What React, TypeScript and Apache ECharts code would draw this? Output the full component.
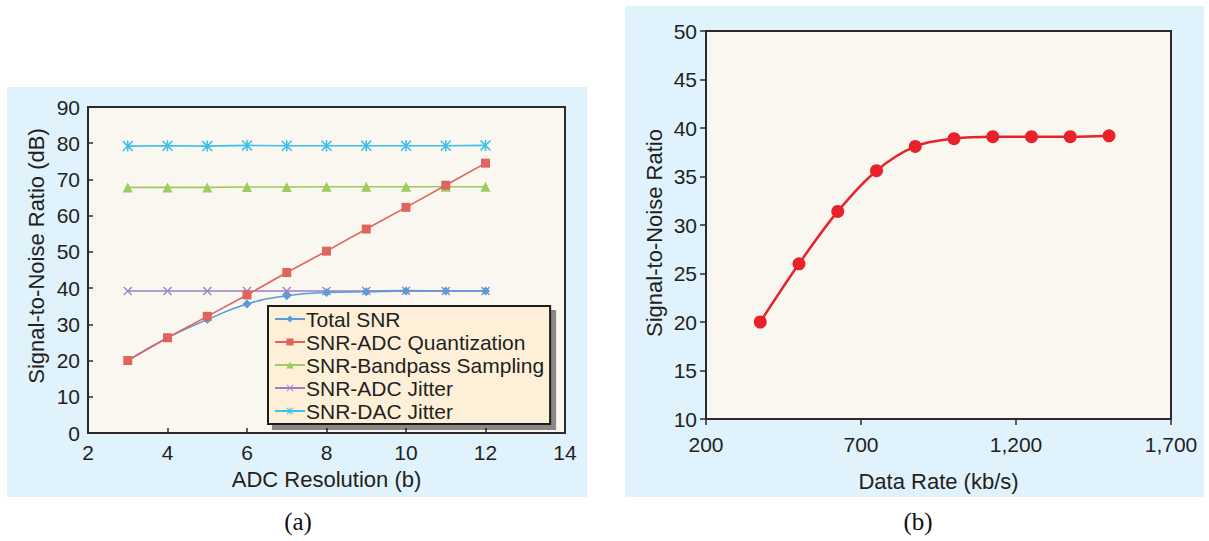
import React, { useEffect, useRef } from 'react';
import * as echarts from 'echarts';

// Panel (a): ADC resolution sweep
const adcBits = [3, 4, 5, 6, 7, 8, 9, 10, 11, 12];
const totalSNR = [20, 26.3, 31.3, 35.6, 37.9, 38.8, 39.0, 39.2, 39.2, 39.2];
const adcQuantization = [20, 26.3, 32.2, 38.1, 44.3, 50.2, 56.3, 62.3, 68.4, 74.5];
const bandpassSampling = [67.8, 67.8, 67.8, 67.9, 67.9, 68.0, 68.0, 68.0, 68.0, 68.0];
const adcJitter = [39.2, 39.2, 39.2, 39.2, 39.2, 39.2, 39.2, 39.3, 39.2, 39.2];
const dacJitter = [79.2, 79.3, 79.2, 79.4, 79.3, 79.3, 79.3, 79.3, 79.3, 79.4];

// Panel (b): data-rate sweep
const dataRate = [375, 500, 625, 750, 875, 1000, 1125, 1250, 1375, 1500];
const snrVsRate = [20, 26, 31.4, 35.6, 38.1, 38.9, 39.1, 39.1, 39.1, 39.2];

const legendNames = [
  'Total SNR',
  'SNR-ADC Quantization',
  'SNR-Bandpass Sampling',
  'SNR-ADC Jitter',
  'SNR-DAC Jitter',
];
const captions = ['(a)', '(b)'];

const pair = (xs: number[], ys: number[]) => xs.map((x, i) => [x, ys[i]]);

const TEXT = '#231f20';
const FONT = 'Liberation Sans, Arial, sans-serif';
const xMark = 'path://M0,1L1,0L10,9L9,10Z M1,10L0,9L9,0L10,1Z';
const starMark = 'path://M4.3,0L5.7,0L5.7,10L4.3,10Z M0,1L1,0L10,9L9,10Z M1,10L0,9L9,0L10,1Z';

export default function App() {
  const ref = useRef<HTMLDivElement>(null);
  useEffect(() => {
    const chart = echarts.init(ref.current!, null, { renderer: 'svg', width: 1209, height: 541 });

    const axisLine = { show: true, lineStyle: { color: '#2b2b2b', width: 2 } };
    const tickLabel = { fontSize: 21, color: TEXT, fontFamily: FONT };

    const lineSeries = (name: string, ys: number[], color: string, symbol: string, size: number, smooth = false) => ({
      name,
      type: 'line',
      xAxisIndex: 0,
      yAxisIndex: 0,
      data: pair(adcBits, ys),
      smooth,
      symbol,
      symbolSize: size,
      showSymbol: true,
      lineStyle: { color, width: 1.6 },
      itemStyle: { color },
      z: 3,
    });

    const option: any = {
      animation: false,
      backgroundColor: '#ffffff',
      graphic: [
        { type: 'rect', z: -10, shape: { x: 7, y: 87, width: 580, height: 410 }, style: { fill: '#E0F2FC' } },
        { type: 'rect', z: -10, shape: { x: 625, y: 6, width: 579, height: 491 }, style: { fill: '#E0F2FC' } },
        {
          type: 'text', x: 36, y: 256, rotation: Math.PI / 2,
          style: { text: 'Signal-to-Noise Ratio (dB)', fontSize: 22, fontFamily: FONT, fill: TEXT, textAlign: 'center', textVerticalAlign: 'middle' },
        },
        {
          type: 'text', x: 654, y: 233, rotation: Math.PI / 2,
          style: { text: 'Signal-to-Noise Ratio', fontSize: 22, fontFamily: FONT, fill: TEXT, textAlign: 'center', textVerticalAlign: 'middle' },
        },
        {
          type: 'text', x: 298, y: 521,
          style: { text: captions[0], fontSize: 25, fontFamily: 'Liberation Serif, serif', fill: '#111', textAlign: 'center', textVerticalAlign: 'middle' },
        },
        {
          type: 'text', x: 918, y: 521,
          style: { text: captions[1], fontSize: 25, fontFamily: 'Liberation Serif, serif', fill: '#111', textAlign: 'center', textVerticalAlign: 'middle' },
        },
      ],
      grid: [
        { left: 88, top: 107, width: 477, height: 326, show: true, backgroundColor: '#FAF7F0', borderColor: '#2b2b2b', borderWidth: 2 },
        { left: 706, top: 31, width: 465, height: 388, show: true, backgroundColor: '#FAF7F0', borderColor: '#2b2b2b', borderWidth: 2 },
      ],
      legend: {
        data: legendNames,
        orient: 'vertical',
        left: 268,
        top: 306,
        backgroundColor: '#FEF0D8',
        borderColor: '#1a1a1a',
        borderWidth: 2,
        borderRadius: 0,
        padding: [2, 6, 2, 6],
        shadowColor: 'rgba(0,0,0,0.45)',
        shadowOffsetX: 5,
        shadowOffsetY: 5,
        shadowBlur: 0,
        itemWidth: 30,
        itemHeight: 9,
        itemGap: 1,
        textStyle: { fontSize: 21, lineHeight: 22, color: TEXT, fontFamily: FONT, padding: [0, 0, 0, -4] },
      },
      xAxis: [
        {
          gridIndex: 0, type: 'value', min: 2, max: 14, interval: 2,
          axisLine, axisTick: { show: true, inside: true, length: 5, lineStyle: { color: '#2b2b2b', width: 1.5 } },
          splitLine: { show: false },
          axisLabel: { ...tickLabel, margin: 9 },
          name: 'ADC Resolution (b)', nameLocation: 'middle', nameGap: 35,
          nameTextStyle: { fontSize: 22, color: TEXT, fontFamily: FONT },
        },
        {
          gridIndex: 1, type: 'value', min: 200, max: 1700, interval: 500,
          axisLine, axisTick: { show: true, inside: false, length: 6, lineStyle: { color: '#2b2b2b', width: 1.5 } },
          splitLine: { show: false },
          axisLabel: { ...tickLabel, margin: 15, formatter: (v: number) => v.toLocaleString('en-US') },
          name: 'Data Rate (kb/s)', nameLocation: 'middle', nameGap: 51,
          nameTextStyle: { fontSize: 22, color: TEXT, fontFamily: FONT },
        },
      ],
      yAxis: [
        {
          gridIndex: 0, type: 'value', min: 0, max: 90, interval: 10,
          axisLine, axisTick: { show: true, inside: true, length: 5, lineStyle: { color: '#2b2b2b', width: 1.5 } },
          splitLine: { show: false },
          axisLabel: { ...tickLabel, margin: 8 },
        },
        {
          gridIndex: 1, type: 'value', min: 10, max: 50, interval: 5,
          axisLine, axisTick: { show: true, inside: false, length: 6, lineStyle: { color: '#2b2b2b', width: 1.5 } },
          splitLine: { show: false },
          axisLabel: { ...tickLabel, margin: 9 },
        },
      ],
      series: [
        lineSeries(legendNames[3], adcJitter, '#9B80C6', xMark, 9),
        lineSeries(legendNames[4], dacJitter, '#3DBFE9', starMark, 11),
        lineSeries(legendNames[2], bandpassSampling, '#9CCB5E', 'triangle', 10),
        lineSeries(legendNames[0], totalSNR, '#5C9BD8', 'diamond', 9, true),
        lineSeries(legendNames[1], adcQuantization, '#E0645E', 'rect', 9),
        {
          name: 'SNR', type: 'line', xAxisIndex: 1, yAxisIndex: 1,
          data: pair(dataRate, snrVsRate), smooth: 0.35,
          symbol: 'circle', symbolSize: 13,
          lineStyle: { color: '#E8222B', width: 2.5 },
          itemStyle: { color: '#E8222B' },
          z: 3,
        },
      ],
    };
    chart.setOption(option);
    return () => chart.dispose();
  }, []);
  return <div ref={ref} style={{ position: 'absolute', left: 0, top: 0, width: 1209, height: 541, background: '#fff' }} />;
}
